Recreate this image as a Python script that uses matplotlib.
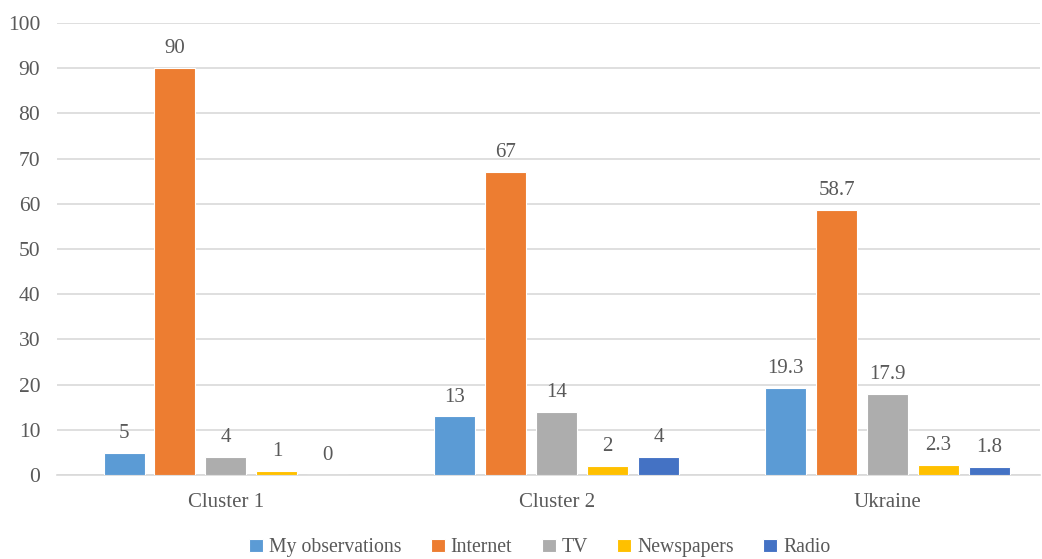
import numpy as np
import matplotlib.pyplot as plt

# data
categories = ['Cluster 1', 'Cluster 2', 'Ukraine']
series = ['My observations', 'Internet', 'TV', 'Newspapers', 'Radio']
my_obs = [5, 13, 19.3]
internet = [90, 67, 58.7]
tv = [4, 14, 17.9]
newspapers = [1, 2, 2.3]
radio = [0, 4, 1.8]
values = [my_obs, internet, tv, newspapers, radio]
colors = ['#5B9BD5', '#ED7D31', '#ADADAD', '#FFC000', '#4472C4']

plt.rcParams['font.family'] = ['Liberation Serif', 'DejaVu Serif']
text_col = '#595959'

fig = plt.figure(figsize=(10.42, 5.59), dpi=100)
ax = fig.add_axes([57 / 1042, 0.150, 983 / 1042, 0.809])

x = np.arange(len(categories))
step = 0.154
width = 0.124
for i, (name, vals) in enumerate(zip(series, values)):
    pos = x + (i - 2) * step
    ax.bar(pos, vals, width, color=colors[i], label=name,
           edgecolor='white', linewidth=0.8, zorder=3)
    for xp, v in zip(pos, vals):
        ax.annotate(f'{v:g}', (xp, v), xytext=(0, 7), textcoords='offset points',
                    ha='center', va='bottom', fontsize=15, color=text_col)

ax.set_xlim(-0.5106, 2.4607)
ax.set_ylim(0, 100)
ax.set_yticks(range(0, 101, 10))
ax.set_xticks(x)
ax.set_xticklabels(categories)
ax.tick_params(axis='both', length=0, labelcolor=text_col)
ax.tick_params(axis='y', pad=12, labelsize=15.5)
ax.tick_params(axis='x', pad=13, labelsize=15)
ax.grid(axis='y', color='#D9D9D9', linewidth=1.2, zorder=0)
for s in ['top', 'right', 'left']:
    ax.spines[s].set_visible(False)
ax.spines['bottom'].set_color('#D9D9D9')
ax.spines['bottom'].set_linewidth(1.2)

leg = fig.legend(loc='center', bbox_to_anchor=(0.518, 0.02), ncol=5, frameon=False,
                 fontsize=14.2, handlelength=0.7, handleheight=0.7, handletextpad=0.3,
                 columnspacing=1.5)
for t in leg.get_texts():
    t.set_color(text_col)

plt.savefig('out.png', dpi=100)
